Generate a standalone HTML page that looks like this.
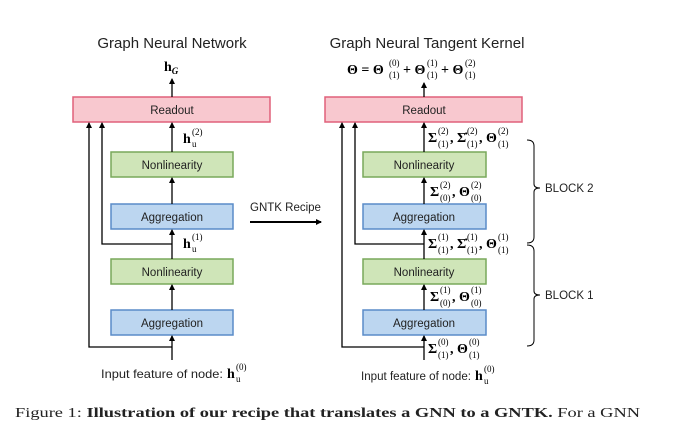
<!DOCTYPE html>
<html><head><meta charset="utf-8"><style>
html,body{margin:0;padding:0;background:#fff;}
svg{display:block;}
.t{font-family:"Liberation Sans",sans-serif;}
.m{font-family:"Liberation Serif",serif;font-weight:bold;}
.s{font-family:"Liberation Serif",serif;font-size:9px;}
</style></head><body>
<svg width="684" height="433" viewBox="0 0 684 433" xmlns="http://www.w3.org/2000/svg">
<defs>
<marker id="a" markerWidth="6" markerHeight="6" refX="5" refY="3" orient="auto" markerUnits="userSpaceOnUse">
<path d="M0,0 L6,3 L0,6 z" fill="#000"/></marker>
</defs>
<g class="t" font-size="15" text-anchor="middle" fill="#222">
<text x="172" y="48">Graph Neural Network</text>
<text x="427" y="48">Graph Neural Tangent Kernel</text>
</g>
<g stroke-width="1.5">
<rect x="73" y="97" width="197" height="25" fill="#f8c8cf" stroke="#e0607a"/>
<rect x="111" y="152" width="122" height="25" fill="#cfe5b8" stroke="#78a85a"/>
<rect x="111" y="204" width="122" height="25" fill="#bcd6f0" stroke="#5a8cc8"/>
<rect x="111" y="259" width="122" height="25" fill="#cfe5b8" stroke="#78a85a"/>
<rect x="111" y="310" width="122" height="25" fill="#bcd6f0" stroke="#5a8cc8"/>
<rect x="325" y="97" width="197" height="25" fill="#f8c8cf" stroke="#e0607a"/>
<rect x="363" y="152" width="123" height="25" fill="#cfe5b8" stroke="#78a85a"/>
<rect x="363" y="204" width="123" height="25" fill="#bcd6f0" stroke="#5a8cc8"/>
<rect x="363" y="259" width="123" height="25" fill="#cfe5b8" stroke="#78a85a"/>
<rect x="363" y="310" width="123" height="25" fill="#bcd6f0" stroke="#5a8cc8"/>
</g>
<g class="t" font-size="11.5" text-anchor="middle" fill="#222">
<text x="172" y="114">Readout</text>
<text x="172" y="169">Nonlinearity</text>
<text x="172" y="221">Aggregation</text>
<text x="172" y="276">Nonlinearity</text>
<text x="172" y="327">Aggregation</text>
<text x="424" y="114">Readout</text>
<text x="424" y="169">Nonlinearity</text>
<text x="424" y="221">Aggregation</text>
<text x="424" y="276">Nonlinearity</text>
<text x="424" y="327">Aggregation</text>
</g>
<g stroke="#000" stroke-width="1.3" fill="none">
<line x1="172" y1="360" x2="172" y2="336" marker-end="url(#a)"/>
<line x1="172" y1="310" x2="172" y2="285" marker-end="url(#a)"/>
<line x1="172" y1="259" x2="172" y2="230" marker-end="url(#a)"/>
<line x1="172" y1="204" x2="172" y2="178" marker-end="url(#a)"/>
<line x1="172" y1="152" x2="172" y2="123" marker-end="url(#a)"/>
<line x1="172" y1="97" x2="172" y2="79" marker-end="url(#a)"/>
<polyline points="172,347 89,347 89,123" marker-end="url(#a)"/>
<polyline points="172,244 102,244 102,123" marker-end="url(#a)"/>
<line x1="424" y1="360" x2="424" y2="336" marker-end="url(#a)"/>
<line x1="424" y1="310" x2="424" y2="285" marker-end="url(#a)"/>
<line x1="424" y1="259" x2="424" y2="230" marker-end="url(#a)"/>
<line x1="424" y1="204" x2="424" y2="178" marker-end="url(#a)"/>
<line x1="424" y1="152" x2="424" y2="123" marker-end="url(#a)"/>
<line x1="424" y1="97" x2="424" y2="83" marker-end="url(#a)"/>
<polyline points="424,347 342,347 342,123" marker-end="url(#a)"/>
<polyline points="424,244 355,244 355,123" marker-end="url(#a)"/>
<line x1="250" y1="222" x2="321" y2="222" stroke-width="2" marker-end="url(#a)"/>
<path d="M527,140 Q534,140 534,146 L534,184 Q534,188 540,188 Q534,188 534,192 L534,237 Q534,243 527,243" stroke-width="1"/>
<path d="M527,245 Q534,245 534,251 L534,291 Q534,295 540,295 Q534,295 534,299 L534,340 Q534,346 527,346" stroke-width="1"/>
</g>
<g class="t" font-size="11.5" fill="#222">
<text x="250" y="211">GNTK Recipe</text>
<text x="545" y="192">BLOCK 2</text>
<text x="545" y="299">BLOCK 1</text>
<text x="101" y="378" textLength="122" lengthAdjust="spacingAndGlyphs" font-size="12">Input feature of node:</text>
<text x="361" y="380" textLength="110" lengthAdjust="spacingAndGlyphs">Input feature of node:</text>
</g>
<text class="m" x="227" y="378" font-size="14">h</text><text class="s" x="236" y="370">(0)</text><text class="s" x="236" y="382">u</text>
<text class="m" x="475" y="380" font-size="14">h</text><text class="s" x="484" y="372">(0)</text><text class="s" x="484" y="384">u</text>
<text class="m" x="164" y="71" font-size="14">h<tspan font-size="9" dy="3" font-style="italic">G</tspan></text>
<text class="m" x="183" y="143" font-size="14">h</text><text class="s" x="192" y="135">(2)</text><text class="s" x="192" y="147">u</text>
<text class="m" x="183" y="248" font-size="14">h</text><text class="s" x="192" y="240">(1)</text><text class="s" x="192" y="252">u</text>
<g>
<text class="m" x="347" y="74" font-size="14">Θ = Θ</text><text class="s" x="389" y="66">(0)</text><text class="s" x="389" y="78">(1)</text>
<text class="m" x="403" y="74" font-size="14">+ Θ</text><text class="s" x="427" y="66">(1)</text><text class="s" x="427" y="78">(1)</text>
<text class="m" x="441" y="74" font-size="14">+ Θ</text><text class="s" x="465" y="66">(2)</text><text class="s" x="465" y="78">(1)</text>
</g>
<g>
<text class="m" x="428" y="142" font-size="14">Σ</text><text class="s" x="438" y="134">(2)</text><text class="s" x="438" y="147">(1)</text>
<text class="m" x="450" y="142" font-size="14">, Σ̇</text><text class="s" x="467" y="134">(2)</text><text class="s" x="467" y="147">(1)</text>
<text class="m" x="479" y="142" font-size="14">, Θ</text><text class="s" x="498" y="134">(2)</text><text class="s" x="498" y="147">(1)</text>

<text class="m" x="430" y="196" font-size="14">Σ</text><text class="s" x="440" y="188">(2)</text><text class="s" x="440" y="201">(0)</text>
<text class="m" x="452" y="196" font-size="14">, Θ</text><text class="s" x="471" y="188">(2)</text><text class="s" x="471" y="201">(0)</text>

<text class="m" x="428" y="248" font-size="14">Σ</text><text class="s" x="438" y="240">(1)</text><text class="s" x="438" y="253">(1)</text>
<text class="m" x="450" y="248" font-size="14">, Σ̇</text><text class="s" x="467" y="240">(1)</text><text class="s" x="467" y="253">(1)</text>
<text class="m" x="479" y="248" font-size="14">, Θ</text><text class="s" x="498" y="240">(1)</text><text class="s" x="498" y="253">(1)</text>

<text class="m" x="430" y="301" font-size="14">Σ</text><text class="s" x="440" y="293">(1)</text><text class="s" x="440" y="306">(0)</text>
<text class="m" x="452" y="301" font-size="14">, Θ</text><text class="s" x="471" y="293">(1)</text><text class="s" x="471" y="306">(0)</text>

<text class="m" x="428" y="353" font-size="14">Σ</text><text class="s" x="438" y="345">(0)</text><text class="s" x="438" y="358">(1)</text>
<text class="m" x="450" y="353" font-size="14">, Θ</text><text class="s" x="469" y="345">(0)</text><text class="s" x="469" y="358">(1)</text>
</g>
<text x="15" y="417" font-family="Liberation Serif,serif" font-size="14" fill="#222" textLength="625" lengthAdjust="spacingAndGlyphs">Figure 1:  <tspan font-weight="bold">Illustration of our recipe that translates a GNN to a GNTK.</tspan> For a GNN</text>
</svg>
</body></html>
